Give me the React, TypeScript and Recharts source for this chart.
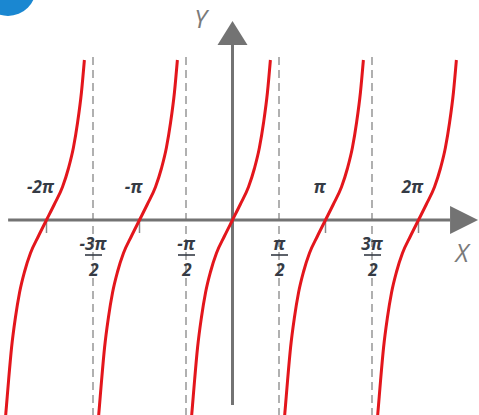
import { LineChart, Line, XAxis, YAxis, ReferenceLine, ReferenceDot } from "recharts";

const PI = Math.PI;

// one branch of y = tan x (offset from branch centre, value)
const branchOffsets = [-1.47, -1.42, -1.35, -1.28, -1.18, -1.05, -0.91, -0.74, -0.54, -0.27, 0, 0.27, 0.54, 0.74, 0.91, 1.05, 1.18, 1.28];
const branchValues = [-4.6, -4.2, -3.7, -3.2, -2.55, -1.95, -1.45, -1.03, -0.66, -0.32, 0, 0.32, 0.66, 1.03, 1.45, 1.95, 2.55, 3.2];
// centres of the five visible branches: -2π, -π, 0, π, 2π
const branchCenters = [-2 * PI, -PI, 0, PI, 2 * PI];

// asymptotes at k·π/2 and their labels
const asymptoteMultiples = [-3, -1, 1, 3];
const asymptoteNumerators = ["-3π", "-π", "π", "3π"];

// whole-π ticks
const piMultiples = [-2, -1, 1, 2];
const piLabels = ["-2π", "-π", "π", "2π"];

const X_DOMAIN: [number, number] = [-7.854, 8.327];
const Y_DOMAIN: [number, number] = [-3.9, 4.4];

const RED = "#e3161c";
const AXIS = "#737373";
const LABEL = "#353b45";
const FONT = "'Open Sans', 'DejaVu Sans', sans-serif";

const branches = branchCenters.map((c) =>
  branchOffsets.map((o, i) => ({ x: c + o, y: branchValues[i] })),
);

const XArrow = ({ cx, cy }: any) => (
  <g>
    <polygon points={`${cx},${cy - 14} ${cx + 28},${cy} ${cx},${cy + 14}`} fill={AXIS} />
    <text x={cx + 12} y={cy + 42} textAnchor="middle" fontFamily={FONT} fontStyle="italic" fontSize={25} fill="#7a7a7a">X</text>
  </g>
);

const YArrow = ({ cx, cy }: any) => (
  <g>
    <polygon points={`${cx - 15},${cy} ${cx},${cy - 24} ${cx + 15},${cy}`} fill={AXIS} />
    <text x={cx - 32} y={cy - 17} textAnchor="middle" fontFamily={FONT} fontStyle="italic" fontSize={25} fill="#7a7a7a">Y</text>
  </g>
);

const piLabel = (text: string) => ({ cx, cy }: any) => (
  <text x={cx - 6} y={cy - 27} textAnchor="middle" fontFamily={FONT} fontStyle="italic" fontWeight={700} fontSize={17} fill={LABEL}>
    {text}
  </text>
);

const fracLabel = (num: string) => ({ cx, cy }: any) => (
  <g fontFamily={FONT} fontStyle="italic" fontWeight={700} fontSize={17} fill={LABEL}>
    <text x={cx} y={cy + 30} textAnchor="middle">{num}</text>
    <line x1={cx - 8} x2={cx + 9} y1={cy + 35} y2={cy + 35} stroke={LABEL} strokeWidth={1.6} />
    <text x={cx + 1} y={cy + 56} textAnchor="middle">2</text>
  </g>
);

export default function App() {
  return (
    <div style={{ position: "absolute", left: 0, top: 0, width: 479, height: 415, overflow: "hidden", background: "#fff" }}>
      <div
        style={{
          position: "absolute", left: -20, top: -40, width: 56, height: 56,
          borderRadius: "50%", background: "#1a87d1",
        }}
      />
      <LineChart width={479} height={415} margin={{ top: 0, right: 0, bottom: 0, left: 0 }}>
        <XAxis type="number" dataKey="x" domain={X_DOMAIN} allowDataOverflow hide />
        <YAxis type="number" dataKey="y" domain={Y_DOMAIN} allowDataOverflow hide />

        {asymptoteMultiples.map((k) => (
          <ReferenceLine
            key={`as${k}`}
            segment={[{ x: (k * PI) / 2, y: 3.26 }, { x: (k * PI) / 2, y: -3.9 }]}
            stroke="#7c7c7c"
            strokeWidth={1.2}
            strokeDasharray="8 5"
          />
        ))}

        <ReferenceLine segment={[{ x: -7.58, y: 0 }, { x: 7.35, y: 0 }]} stroke={AXIS} strokeWidth={3} />
        <ReferenceLine segment={[{ x: 0, y: -3.7 }, { x: 0, y: 3.5 }]} stroke={AXIS} strokeWidth={3} />

        {piMultiples.map((k) => (
          <ReferenceLine
            key={`tk${k}`}
            segment={[{ x: k * PI, y: 0 }, { x: k * PI, y: -0.26 }]}
            stroke="#8a8a8a"
            strokeWidth={1.5}
          />
        ))}

        {branches.map((d, i) => (
          <Line
            key={`b${i}`}
            data={d}
            dataKey="y"
            type="monotone"
            stroke={RED}
            strokeWidth={3}
            dot={false}
            activeDot={false}
            isAnimationActive={false}
          />
        ))}

        {piMultiples.map((k, i) => (
          <ReferenceDot key={`pl${k}`} x={k * PI} y={0} r={0} shape={piLabel(piLabels[i])} />
        ))}
        {asymptoteMultiples.map((k, i) => (
          <ReferenceDot key={`fl${k}`} x={(k * PI) / 2} y={0} r={0} shape={fracLabel(asymptoteNumerators[i])} />
        ))}

        <ReferenceDot x={7.35} y={0} r={0} shape={XArrow} />
        <ReferenceDot x={0} y={3.5} r={0} shape={YArrow} />
      </LineChart>
    </div>
  );
}
